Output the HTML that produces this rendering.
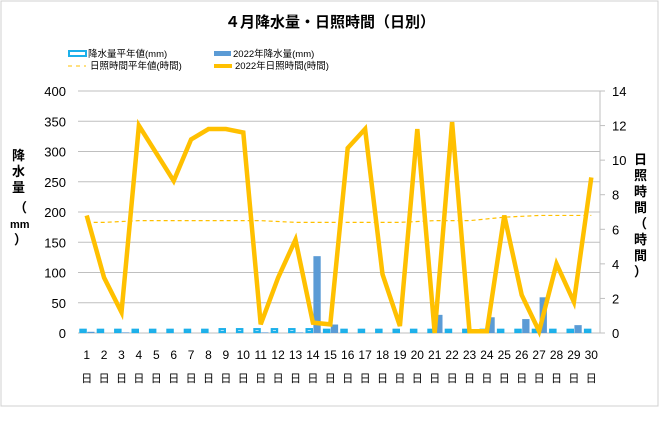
<!DOCTYPE html>
<html><head><meta charset="utf-8"><style>
body{margin:0;background:#fff}
svg text{font-family:"Liberation Sans","Noto Sans CJK JP",sans-serif}
</style></head><body>
<svg width="660" height="418" xmlns="http://www.w3.org/2000/svg">
<rect x="1" y="1" width="657" height="405" fill="#fff" stroke="#d0d0d0"/>
<text x="330" y="27" font-size="15" text-anchor="middle" font-weight="bold">４月降水量・日照時間（日別）</text>
<g font-size="9.5">
<rect x="69" y="51" width="17" height="5" fill="#fff" stroke="#1cb0ea" stroke-width="2"/>
<text x="88" y="57">降水量平年値(mm)</text>
<rect x="214" y="51" width="17" height="5" fill="#5b9bd5"/>
<text x="233" y="57">2022年降水量(mm)</text>
<line x1="68" y1="66" x2="86" y2="66" stroke="#ffc000" stroke-dasharray="4,4"/>
<text x="90" y="69">日照時間平年値(時間)</text>
<line x1="214" y1="66" x2="232" y2="66" stroke="#ffc000" stroke-width="4"/>
<text x="235" y="69">2022年日照時間(時間)</text>
</g>
<g id="grid"></g><g id="bars"></g><g id="lines"></g><g id="axes"></g>
<text font-size="13" font-weight="bold"><tspan x="12" y="160">降</tspan><tspan x="12" y="176">水</tspan><tspan x="12" y="192">量</tspan><tspan x="14" y="212">（</tspan><tspan x="10" y="228" font-size="11">mm</tspan><tspan x="14" y="244">）</tspan></text>
<text font-size="13" font-weight="bold"><tspan x="634" y="164">日</tspan><tspan x="634" y="180">照</tspan><tspan x="634" y="196">時</tspan><tspan x="634" y="212">間</tspan><tspan x="634" y="228">（</tspan><tspan x="634" y="244">時</tspan><tspan x="634" y="260">間</tspan><tspan x="634" y="276">）</tspan></text>
</svg>
<script>
const days=[1,2,3,4,5,6,7,8,9,10,11,12,13,14,15,16,17,18,19,20,21,22,23,24,25,26,27,28,29,30];
const precipNormal=[7,7,7,7,7,7,7,7,8,8,8,8,8,8,7,7,7,7,7,7,7,7,7,7,7,7,7,7,7,7];
const precip2022=[2,0,1,0,0,0,0,0,0,0,1,0,1,127,14,0,0,0,0,0,30,0,5,26,0,23,59,0,13,0];
const sunNormal=[6.4,6.4,6.45,6.5,6.5,6.5,6.5,6.5,6.5,6.5,6.5,6.45,6.4,6.4,6.4,6.4,6.4,6.4,6.4,6.45,6.5,6.5,6.5,6.6,6.7,6.75,6.8,6.8,6.8,6.8];
const sun2022=[6.8,3.2,1.2,12,10.4,8.8,11.2,11.8,11.8,11.6,0.5,3.2,5.4,0.6,0.5,10.7,11.8,3.4,0.4,11.8,0,12.2,0.1,0.1,6.8,2.2,0.1,4,1.8,9];
const leftTicks=[0,50,100,150,200,250,300,350,400];
const rightTicks=[0,2,4,6,8,10,12,14];
const X0=78,X1=600,Y0=333,Y1=91;
const cw=(X1-X0)/days.length;
const xc=i=>X0+cw*(i+0.5);
const yL=v=>Y0-(v/400)*(Y0-Y1);
const yR=v=>Y0-(v/14)*(Y0-Y1);
const NS='http://www.w3.org/2000/svg';
function mk(p,t,a){const e=document.createElementNS(NS,t);for(const k in a)e.setAttribute(k,a[k]);document.getElementById(p).appendChild(e);return e;}
leftTicks.forEach(v=>{
 const l=mk('grid','line',{x1:X0,x2:X1,y1:yL(v),y2:yL(v),stroke:'#bfbfbf'});
 
 
 const t=mk('axes','text',{x:X0-12,y:yL(v)+5,'font-size':13,'text-anchor':'end'});t.textContent=v;
 
 
});
rightTicks.forEach(v=>{
 const t=mk('axes','text',{x:X1+12,y:yR(v)+5,'font-size':13});t.textContent=v;
 
 
 const k=mk('axes','line',{x1:X1,x2:X1+5,y1:yR(v),y2:yR(v),stroke:'#bfbfbf'});
 
 
});
const ax=mk('axes','line',{x1:X1,x2:X1,y1:Y1,y2:Y0,stroke:'#bfbfbf'});


const bw=cw*0.42;
days.forEach((d,i)=>{
 const c=xc(i);
 const b1=mk('bars','rect',{x:c-bw+1,y:yL(precipNormal[i])+1,width:bw-2,height:Math.max(0,Y0-yL(precipNormal[i])-2),fill:'#fff',stroke:'#1cb0ea','stroke-width':2.2});
 
 
 if(precip2022[i]>0){const b2=mk('bars','rect',{x:c+0.5,y:yL(precip2022[i]),width:bw,height:Y0-yL(precip2022[i]),fill:'#5b9bd5'});
 
 }
 const t=mk('axes','text',{x:c,y:359,'font-size':12,'text-anchor':'middle'});t.textContent=d;
 
 
 const t2=mk('axes','text',{x:c,y:382,'font-size':11,'text-anchor':'middle'});t2.textContent='日';
 
 
});
const pn=mk('lines','polyline',{points:sunNormal.map((v,i)=>xc(i)+','+yR(v)).join(' '),fill:'none',stroke:'#ffc000','stroke-width':1.2,'stroke-dasharray':'4,3'});


const p=mk('lines','polyline',{points:sun2022.map((v,i)=>xc(i)+','+yR(v)).join(' '),fill:'none',stroke:'#ffc000','stroke-width':4.5,'stroke-linejoin':'miter'});


</script>
</body></html>
